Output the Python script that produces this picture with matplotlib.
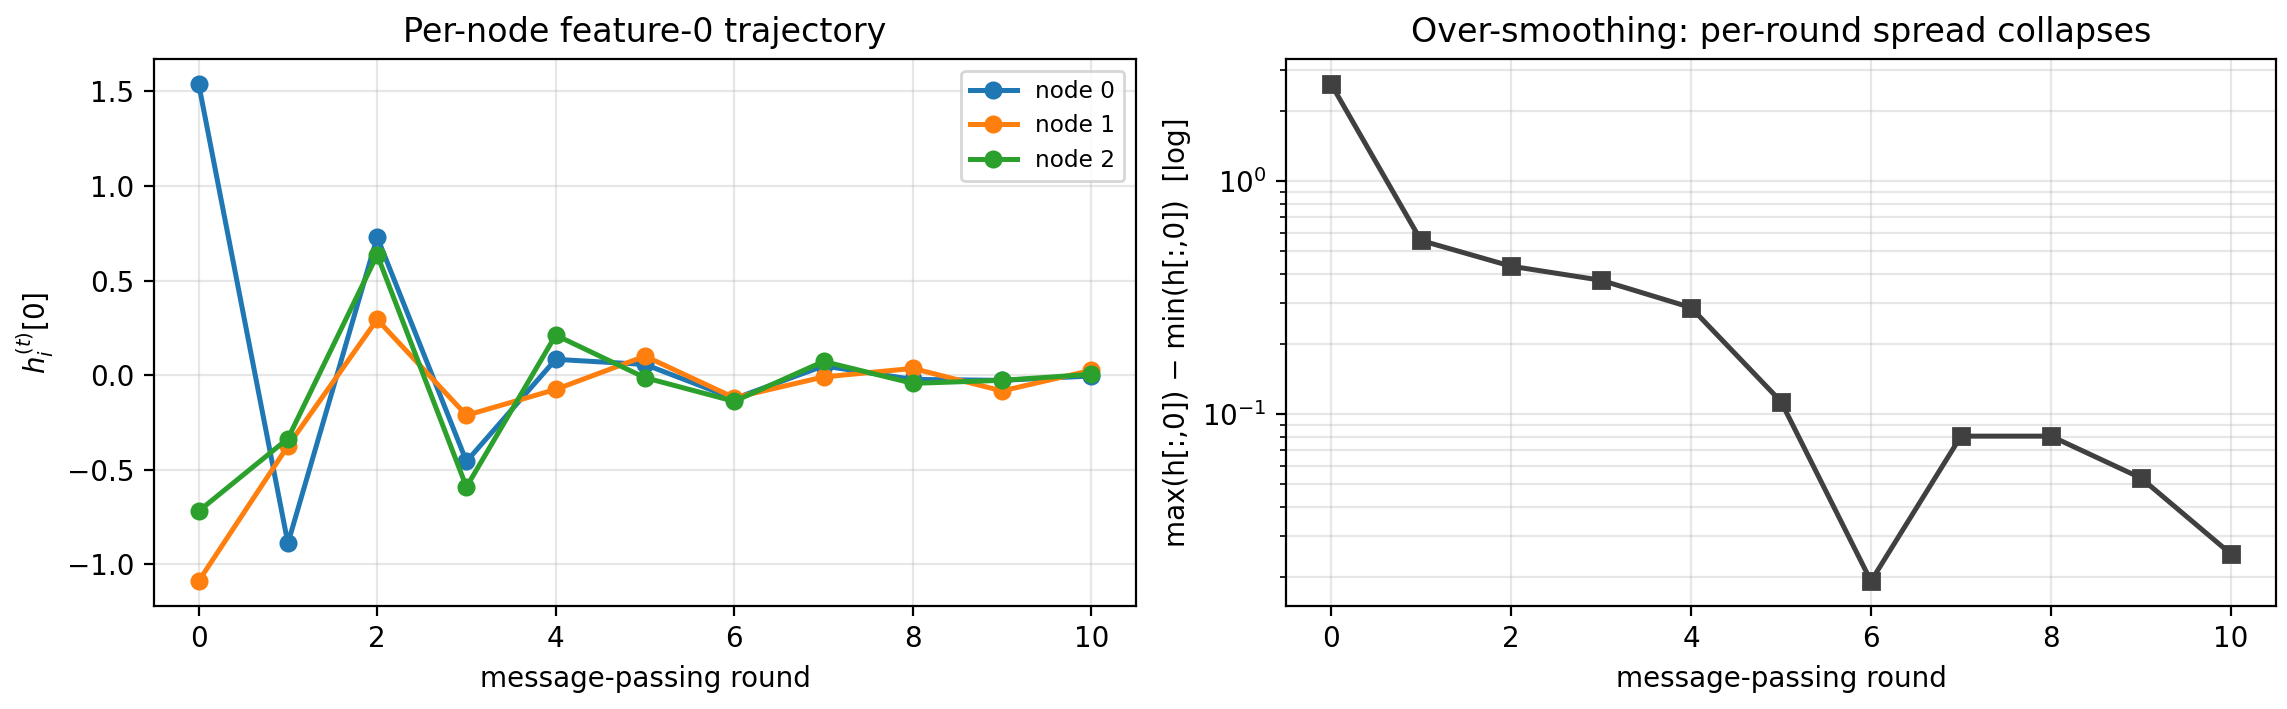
import numpy as np
import matplotlib
matplotlib.use('Agg')
import matplotlib.pyplot as plt

# message-passing rounds
rounds = list(range(11))

# feature-0 value per node
node0 = [1.54, -0.89, 0.73, -0.457, 0.083, 0.056, -0.125, 0.048, -0.023, -0.028, -0.005]
node1 = [-1.09, -0.375, 0.294, -0.213, -0.076, 0.100, -0.120, -0.010, 0.035, -0.084, 0.025]
node2 = [-0.72, -0.336, 0.636, -0.592, 0.211, -0.014, -0.139, 0.072, -0.044, -0.028, 0.004]
node_labels = ['node 0', 'node 1', 'node 2']

# per-round spread max - min (log axis)
spread = [2.62, 0.557, 0.432, 0.376, 0.287, 0.1133, 0.0192, 0.0805, 0.0805, 0.0532, 0.0251]

dpi = 200
W, H = 2287, 709
fig = plt.figure(figsize=(W / dpi, H / dpi), dpi=dpi)
ax1 = fig.add_axes([154 / W, 1 - 606 / H, (1136 - 154) / W, (606 - 59) / H])
ax2 = fig.add_axes([1286 / W, 1 - 606 / H, (2276 - 1286) / W, (606 - 59) / H])

# left: trajectories
for vals, lab in zip([node0, node1, node2], node_labels):
    ax1.plot(rounds, vals, marker='o', lw=1.8, ms=5.5, label=lab)
ax1.set_title('Per-node feature-0 trajectory')
ax1.set_xlabel('message-passing round')
ax1.set_ylabel(r'$h_i^{(t)}[0]$')
ax1.grid(True, alpha=0.3)
ax1.legend(loc='upper right', fontsize='small')

# right: spread on log scale
ax2.semilogy(rounds, spread, marker='s', lw=1.8, ms=5.5, color='#404040')
ax2.set_title('Over-smoothing: per-round spread collapses')
ax2.set_xlabel('message-passing round')
ax2.set_ylabel('max(h[:,0]) \u2212 min(h[:,0])  [log]')
ax2.grid(True, which='both', alpha=0.3)

fig.savefig('out.png', dpi=dpi)
